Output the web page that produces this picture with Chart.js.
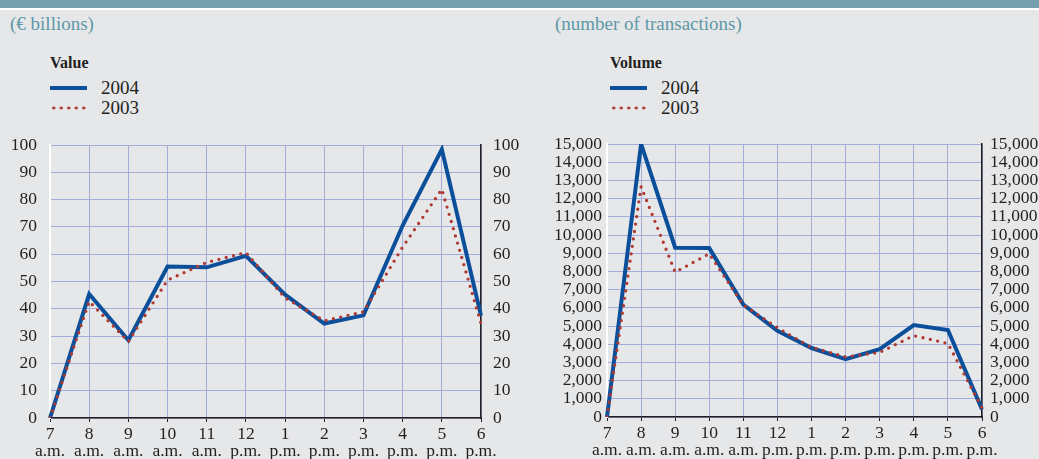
<!doctype html>
<html lang="en">
<head>
<meta charset="utf-8" />
<title>Value and volume by hour</title>
<script src="https://cdn.jsdelivr.net/npm/chart.js@4"></script>
<style>
  html, body { margin: 0; padding: 0; }
  body { width: 1039px; height: 459px; background: #e6e7e9; position: relative; overflow: hidden;
         font-family: "Liberation Serif", "DejaVu Serif", serif; color: #231f20; }
  .band { position: absolute; left: 0; top: 0; width: 1039px; height: 8px; background: #76a0ae; border-bottom: 2px solid #fff; }
  .unit { position: absolute; top: 12px; font-size: 19px; line-height: 24px; color: #5e98a7; }
  .lg { position: absolute; top: 51px; font-size: 19px; line-height: 20px; }
  .lg b { display: block; font-size: 16px; height: 27px; line-height: 24px; }
  .row { height: 20px; display: flex; align-items: center; }
  .sw { width: 37px; margin-right: 14px; }
  .sw.solid { border-top: 4px solid #0b4f9b; }
  .sw.dots { height: 4px; background-image: radial-gradient(circle, #b0392f 1.4px, transparent 1.7px); background-size: 7.5px 4px; }
</style>
</head>
<body>
<div class="band"></div>
<div class="unit" style="left:10px">(€ billions)</div>
<div class="unit" style="left:555px">(number of transactions)</div>
<div class="lg" style="left:50px"><b>Value</b>
  <div class="row"><span class="sw solid"></span>2004</div>
  <div class="row"><span class="sw dots"></span>2003</div>
</div>
<div class="lg" style="left:610px"><b>Volume</b>
  <div class="row"><span class="sw solid"></span>2004</div>
  <div class="row"><span class="sw dots"></span>2003</div>
</div>
<div style="position:absolute;left:0;top:130px;width:525px;height:329px"><canvas id="value"></canvas></div>
<div style="position:absolute;left:540px;top:130px;width:499px;height:329px"><canvas id="volume"></canvas></div>
<script>
const hours = [["7", "a.m."], ["8", "a.m."], ["9", "a.m."], ["10", "a.m."], ["11", "a.m."], ["12", "p.m."],
               ["1", "p.m."], ["2", "p.m."], ["3", "p.m."], ["4", "p.m."], ["5", "p.m."], ["6", "p.m."]];

// € billions
const value2004 = [0, 45.4, 28.5, 55.5, 55.2, 59.4, 45.2, 34.6, 37.6, 70.5, 98.4, 37.5];
const value2003 = [0, 42.7, 28.0, 50.5, 57.0, 60.6, 44.0, 35.6, 38.9, 62.6, 83.8, 34.6];

// number of transactions
const volume2004 = [0, 15000, 9300, 9280, 6180, 4740, 3790, 3180, 3730, 5050, 4780, 420];
const volume2003 = [0, 12650, 7960, 8970, 6150, 4900, 3820, 3300, 3550, 4470, 4040, 500];

const BLUE = "#0b4f9b", RED = "#b0392f", GRID = "#a3addb", INK = "#231f20";
const font = { family: "'Liberation Serif', 'DejaVu Serif', serif", size: 17.5 };

function makeChart(id, a, b, max, step, box) {
  // label gap comes from an invisible tick mark, so it does not push the plot top down
  const yTicks = { font, color: INK, padding: 0, stepSize: step, autoSkip: false,
                   callback: v => v.toLocaleString("en-US") };
  return new Chart(document.getElementById(id), {
    type: "line",
    data: {
      labels: hours,
      datasets: [
        { label: "2004", data: a, borderColor: BLUE, borderWidth: 4, pointRadius: 0, tension: 0, order: 1,
          borderJoinStyle: "miter" },
        { label: "2003", data: b, borderColor: RED, borderWidth: 3.3, pointRadius: 0, tension: 0, order: 0,
          borderDash: [0, 7.5], borderCapStyle: "round" },
      ],
    },
    options: {
      responsive: true, maintainAspectRatio: false, animation: false,
      layout: { padding: { top: box.top, left: 0, right: 0, bottom: 0 } },
      plugins: { legend: { display: false }, tooltip: { enabled: false } },
      scales: {
        x: {
          offset: false,
          grid: { color: GRID, lineWidth: 1, tickColor: INK, tickLength: 4 },
          border: { color: INK, width: 1.5 },
          ticks: { font: { ...font, lineHeight: 0.98 }, color: INK, padding: 4, autoSkip: false, maxRotation: 0 },
          afterFit: s => { s.height = box.xh; },
        },
        y: {
          min: 0, max: max,
          grid: { color: GRID, lineWidth: 1, tickColor: "transparent", tickLength: box.lp },
          border: { color: "#ffffff", width: 2 },
          ticks: yTicks,
          afterFit: s => { s.width = box.lw; },
        },
        y2: {
          position: "right", min: 0, max: max,
          grid: { drawOnChartArea: false, tickColor: "transparent", tickLength: box.rp },
          border: { color: INK, width: 1.5 },
          ticks: yTicks,
          afterFit: s => { s.width = box.rw; },
        },
      },
    },
  });
}

makeChart("value", value2004, value2003, 100, 10, { top: 15, xh: 41, lw: 50, rw: 44, lp: 13, rp: 12 });
makeChart("volume", volume2004, volume2003, 15000, 1000, { top: 14, xh: 42, lw: 67, rw: 57, lp: 5, rp: 8 });
</script>
</body>
</html>
